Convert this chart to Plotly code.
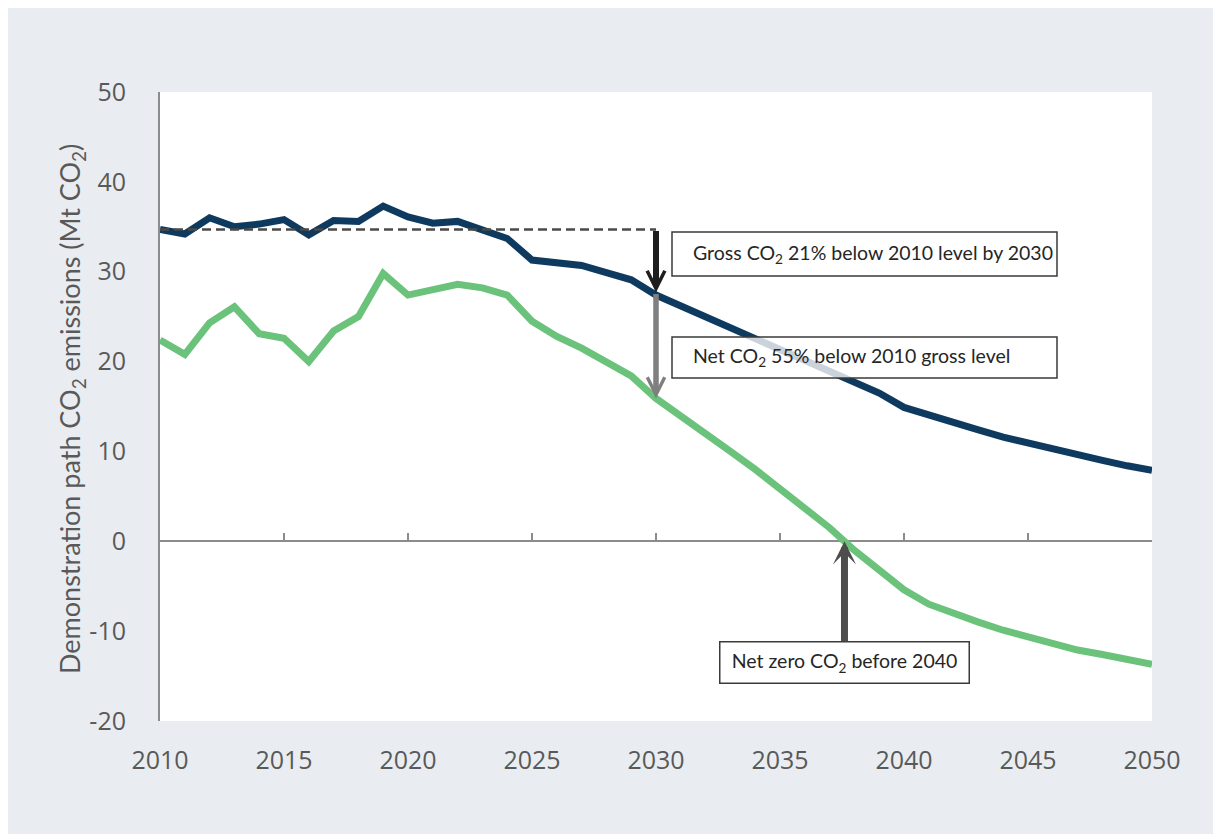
import plotly.graph_objects as go

# ---- data ----
years = list(range(2010, 2051))
gross_co2 = [34.7, 34.2, 36.0, 35.0, 35.3, 35.8, 34.1, 35.7, 35.6, 37.3,
             36.1, 35.4, 35.6, 34.7, 33.7, 31.3, 31.0, 30.7, 29.9, 29.1,
             27.4, 26.2, 25.0, 23.9, 22.7, 21.5, 20.3, 19.1, 17.9, 16.5,
             14.9, 14.0, 13.2, 12.4, 11.6, 10.9, 10.2, 9.6, 9.0, 8.4, 7.9]
net_co2 = [22.4, 20.8, 24.3, 26.1, 23.1, 22.6, 20.0, 23.4, 25.0, 29.8,
           27.4, 28.0, 28.6, 28.2, 27.4, 24.5, 22.8, 21.5, 20.0, 18.4,
           15.9, 14.0, 12.0, 10.0, 8.0, 5.9, 3.8, 1.5, -1.0, -3.1,
           -5.4, -7.0, -8.1, -9.0, -9.9, -10.7, -11.4, -12.1, -12.6, -13.1, -13.7]
baseline_years = [2010, 2030]
x_ticks = [2010, 2015, 2020, 2025, 2030, 2035, 2040, 2045, 2050]
y_ticks = [-20, -10, 0, 10, 20, 30, 40, 50]
y_tick_labels = ["-20", "-10", "0", "10", "20", "30", "40", "50"]
target_year = 2030
label_gross = "Gross CO<sub>2</sub> 21% below 2010 level by 2030"
label_net = "Net CO<sub>2</sub> 55% below 2010 gross level"
label_zero = "Net zero CO<sub>2</sub> before 2040"
y_title = "Demonstration path CO<sub>2</sub> emissions (Mt CO<sub>2</sub>)"

base_value = gross_co2[0]
i_t = years.index(target_year)
gross_target = gross_co2[i_t]
net_target = net_co2[i_t]
# year where net crosses zero (linear between the two bracketing points)
zero_year = None
for i in range(1, len(years)):
    if net_co2[i - 1] > 0 >= net_co2[i]:
        a, b = net_co2[i - 1], net_co2[i]
        zero_year = years[i - 1] + a / (a - b)
        break

DARK = "#0f3a5f"
GREEN = "#6bc27b"
GREY_TXT = "#595959"
AXIS = "#8c8c8c"
BG = "#e9edf1"

fig = go.Figure()
fig.add_trace(go.Scatter(x=years, y=gross_co2, mode="lines",
                         line=dict(color=DARK, width=7), hoverinfo="skip"))
fig.add_trace(go.Scatter(x=years, y=net_co2, mode="lines",
                         line=dict(color=GREEN, width=7), hoverinfo="skip"))
fig.add_trace(go.Scatter(x=baseline_years, y=[base_value, base_value], mode="lines",
                         xaxis="x2",
                         line=dict(color="#4a4a4a", width=2.5, dash="9px,5px"),
                         hoverinfo="skip"))

# figure size and margins (page is shown with an 8px body offset)
W, H = 1221, 834
L, R, T, B = 152, 77, 84, 121
PL, PR, PT, PB = 160, 1152, 92, 721   # plot area on screen
pw, ph = PR - PL, PB - PT


def px_x(p):
    return (p - PL) / pw


def px_y(p):
    return (PB - p) / ph


shapes = [
    dict(type="rect", xref="paper", yref="paper", layer="above",
         x0=px_x(672), x1=px_x(1057), y0=px_y(276), y1=px_y(232),
         fillcolor="rgba(255,255,255,0.78)", line=dict(color="#3a3a3a", width=1.5)),
    dict(type="rect", xref="paper", yref="paper", layer="above",
         x0=px_x(672), x1=px_x(1057), y0=px_y(378), y1=px_y(337),
         fillcolor="rgba(255,255,255,0.78)", line=dict(color="#3a3a3a", width=1.5)),
]

txt_font = dict(family="Lato, Open Sans, sans-serif", size=19.5, color="#262626")
annotations = [
    # arrows at 2030
    dict(x=target_year, y=gross_target + 0.3, ax=target_year, ay=base_value,
         xref="x", yref="y", axref="x", ayref="y", text="", showarrow=True,
         arrowhead=5, arrowwidth=6, arrowsize=0.58, arrowcolor="#1e1e1e", standoff=0),
    dict(x=target_year, y=net_target, ax=target_year, ay=gross_target + 0.3,
         xref="x", yref="y", axref="x", ayref="y", text="", showarrow=True,
         arrowhead=5, arrowwidth=5.5, arrowsize=0.62, arrowcolor="#7f7f7f", standoff=0),
    # net zero label with arrow
    dict(x=zero_year, y=0, ax=zero_year, ay=(PB - 662) / ph * 70 - 20,
         xref="x", yref="y", axref="x", ayref="y", text=label_zero, showarrow=True,
         arrowhead=3, arrowwidth=7, arrowsize=0.55, arrowcolor="#4d4d4d", standoff=0,
         bordercolor="#3a3a3a", borderwidth=1.5, borderpad=0, bgcolor="white",
         width=248, height=40, align="center", font=txt_font),
    # texts
    dict(x=px_x(691), y=px_y(254), xref="paper", yref="paper", text=label_gross,
         showarrow=False, xanchor="left", yanchor="middle", font=txt_font),
    dict(x=px_x(691), y=px_y(357.5), xref="paper", yref="paper", text=label_net,
         showarrow=False, xanchor="left", yanchor="middle", font=txt_font),
    # y axis title
    dict(x=px_x(71), y=px_y(409), xref="paper", yref="paper", text=y_title,
         textangle=-90, showarrow=False, xanchor="center", yanchor="middle",
         font=dict(family="Lato, Open Sans, sans-serif", size=27, color=GREY_TXT)),
]

tick_font = dict(family="Open Sans, sans-serif", size=25, color=GREY_TXT)
fig.update_layout(
    width=W, height=H, autosize=False,
    margin=dict(l=L, r=R, t=T, b=B, pad=0),
    paper_bgcolor=BG, plot_bgcolor="white",
    showlegend=False,
    shapes=shapes, annotations=annotations,
    xaxis=dict(range=[2010, 2050], tickvals=x_ticks, showline=False, showgrid=False,
               zeroline=False, ticks="outside", ticklen=17, tickcolor="rgba(0,0,0,0)",
               tickfont=tick_font),
    xaxis2=dict(range=[2010, 2050], tickvals=x_ticks, overlaying="x", anchor="free",
                position=(0 - y_ticks[0]) / (y_ticks[-1] - y_ticks[0]), side="bottom",
                ticks="inside", ticklen=8, tickwidth=2, tickcolor=AXIS,
                showticklabels=False, showline=False, showgrid=False, zeroline=False),
    yaxis=dict(range=[y_ticks[0], y_ticks[-1]], tickvals=y_ticks, ticktext=y_tick_labels,
               showline=True, linecolor=AXIS, linewidth=2, showgrid=False, zeroline=True,
               zerolinecolor=AXIS, zerolinewidth=2, ticks="outside", ticklen=27,
               tickcolor="rgba(0,0,0,0)", tickfont=tick_font),
)

fig.write_html("out.html")
